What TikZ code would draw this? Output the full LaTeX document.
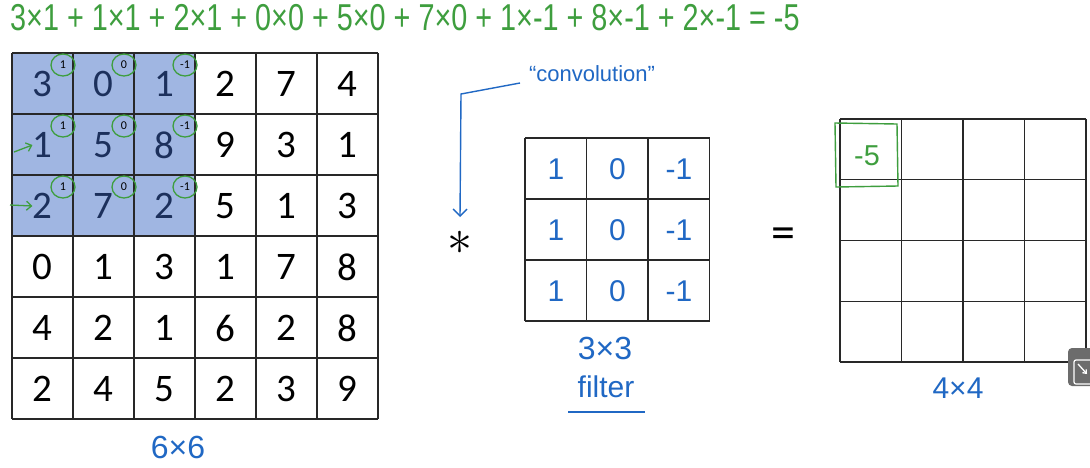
\documentclass[tikz,border=0pt]{standalone}
\usepackage{fontspec}
\setmainfont{Carlito}
\newfontfamily\hand{Liberation Sans}
\usetikzlibrary{arrows.meta}
\definecolor{inkgreen}{RGB}{62,158,62}
\definecolor{inkblue}{RGB}{32,104,196}
\definecolor{windowblue}{RGB}{160,182,226}
\definecolor{navy}{RGB}{28,48,92}
\definecolor{gridline}{RGB}{40,40,40}
\tikzset{
  gridlines/.style={draw=gridline, line width=1.4pt},
  bigdigit/.style={font=\fontsize{39}{39}\selectfont, inner sep=0pt},
  handblue/.style={text=inkblue, font=\hand\fontsize{30}{30}\selectfont, inner sep=0pt},
  handgreen/.style={text=inkgreen, font=\hand\fontsize{28.8}{28.8}\selectfont, inner sep=0pt},
  weightmark/.style={font=\fontsize{12}{12}\selectfont, inner sep=0pt},
  weightring/.style={draw=inkgreen, line width=1.3pt},
  greenarrow/.style={draw=inkgreen, line width=1.3pt, -{Straight Barb[length=5pt,width=9pt]}},
}
\begin{document}
\begin{tikzpicture}[x=1pt,y=-1pt]
\useasboundingbox (0,0) rectangle (1090,467);
\fill[white] (0,0) rectangle (1090,467);

% ---- 6x6 input image ----
\fill[windowblue] (12,53) rectangle (195,236);
\foreach \i in {0,...,6} {
  \draw[gridlines] (12+61*\i,53) -- (12+61*\i,419);
  \draw[gridlines] (12,53+61*\i) -- (378,53+61*\i);
}
\foreach \v [count=\k from 0] in {3,0,1,2,7,4, 1,5,8,9,3,1, 2,7,2,5,1,3,
                                   0,1,3,1,7,8, 4,2,1,6,2,8, 2,4,5,2,3,9} {
  \pgfmathtruncatemacro{\r}{int(\k/6)}
  \pgfmathtruncatemacro{\c}{mod(\k,6)}
  \pgfmathsetmacro{\cx}{42.5+61*\c}
  \pgfmathsetmacro{\cy}{84+61*\r}
  \pgfmathtruncatemacro{\inwin}{(\r<3) && (\c<3) ? 1 : 0}
  \ifnum\inwin=1
    \node[bigdigit, text=navy] (in-\r-\c) at (\cx,\cy) {\v};
  \else
    \node[bigdigit] (in-\r-\c) at (\cx,\cy) {\v};
  \fi
}
% filter weights written over the shaded window
\foreach \r in {0,1,2} {
  \foreach \c/\w in {0/1,1/0,2/-1} {
    \node[weightmark] (w-\r-\c) at (63+61*\c,65+61*\r) {\w};
    \draw[weightring] (w-\r-\c) ellipse [x radius=12pt, y radius=11pt];
  }
}
\coordinate (a1) at (14,152);
\coordinate (a2) at (10,205);
\draw[greenarrow] (a1) -- (in-1-0.west);
\draw[greenarrow] (a2) -- (in-2-0.west);

% ---- sum of products ----
\node[handgreen, anchor=west] (sum) at (10,18)
  {\scalebox{1}[1.3]{3×1 + 1×1 + 2×1 + 0×0 + 5×0 + 7×0 + 1×-1 + 8×-1 + 2×-1 = -5}};

% ---- convolution operator ----
\node[inner sep=0pt] (star) at (460,243) {\scalebox{5}{$\ast$}};
\node[handblue, font=\hand\fontsize{22}{22}\selectfont] (conv) at (592,74) {“convolution”};
\coordinate (c0) at (520,83);
\coordinate (c1) at (461,94);
\draw[inkblue, line width=1.4pt, -{Straight Barb[length=7pt,width=14pt]}]
  (c0) -- (c1) -- (460,217);

% ---- 3x3 filter ----
\foreach \i in {0,...,3} {
  \draw[gridlines] (525+61.5*\i,138) -- (525+61.5*\i,321);
  \draw[gridlines] (525,138+61*\i) -- (710,138+61*\i);
}
\foreach \r in {0,1,2} {
  \foreach \w [count=\c from 0] in {1,0,-1} {
    \node[handblue] (f-\r-\c) at (556+61.5*\c,169+61*\r) {\w};
  }
}
\node[handblue, font=\hand\fontsize{32}{32}\selectfont] (fsize) at (605,348) {3×3};
\node[handblue] (flabel) at (606,387) {filter};
\draw[inkblue, line width=1.4pt] (568,412) -- (645,412);

% ---- equals ----
\node[font=\fontsize{48}{48}\selectfont, inner sep=0pt] (eq) at (783,238) {=};

% ---- 4x4 output ----
\foreach \i in {0,...,4} {
  \draw[gridlines] (840+61.5*\i,119) -- (840+61.5*\i,362);
  \draw[gridlines] (840,119+60.75*\i) -- (1086,119+60.75*\i);
}
\node[handgreen] (out) at (867,156) {-5};
\draw[inkgreen, line width=1.4pt] (835,123) -- (897,124) -- (898,186) -- (836,187) -- cycle;
\node[handblue, font=\hand\fontsize{30}{30}\selectfont] (osize) at (958,388) {4×4};

\node[handblue, font=\hand\fontsize{32}{32}\selectfont] (isize) at (178,447) {6×6};

% ---- player control in the corner ----
\fill[gray!85!black, rounded corners=4pt] (1068,348) rectangle (1100,386);
\draw[white, line width=1.2pt, rounded corners=2pt] (1074,360) rectangle (1100,384);
\draw[white, line width=1.3pt, -{Straight Barb[length=3pt,width=5pt]}] (1078,364) -- (1087,374);
\end{tikzpicture}
\end{document}
